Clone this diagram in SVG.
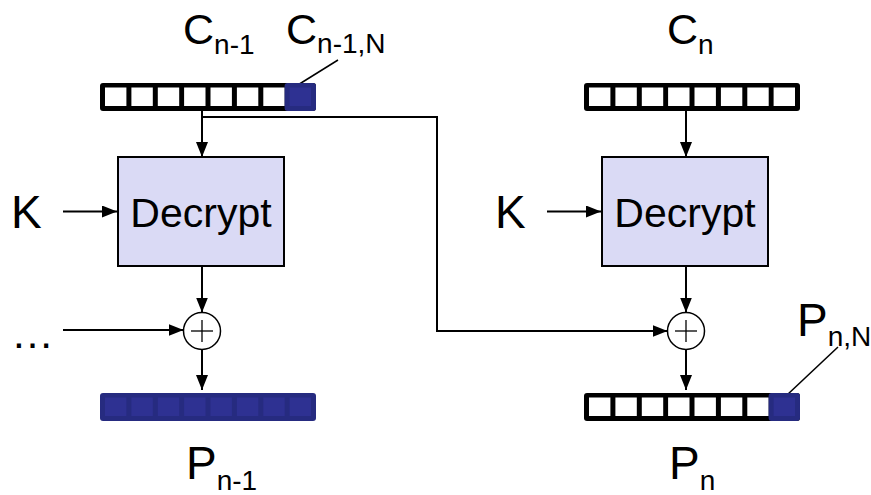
<svg xmlns="http://www.w3.org/2000/svg" xmlns:xlink="http://www.w3.org/1999/xlink" width="871" height="495" viewBox="0 0 871 495">
<style>
text{font-family:"Liberation Sans",Arial,sans-serif;fill:#000}
.big{font-size:43px}
.lbl{font-size:46px}
.sub{font-size:28px}
.box{fill:#dadaf5;stroke:#000;stroke-width:2}
.wire{fill:none;stroke:#000;stroke-width:2}
.lead{fill:none;stroke:#000;stroke-width:1.5}
.xor{fill:#fff;stroke:#000;stroke-width:1.5}
.plus{stroke:#000;stroke-width:1.3}
</style>
<defs>
<marker id="ah" viewBox="0 0 15 12" markerUnits="userSpaceOnUse" markerWidth="15" markerHeight="12" refX="15" refY="6" orient="auto">
<path d="M0,0 L15,6 L0,12 z" fill="#000"/>
</marker>
<g id="barWhite">
<rect x="0" y="0" width="216" height="28" rx="3" fill="#000"/>
<rect x="5" y="4.5" width="21.4" height="18.5" fill="#fff"/>
<rect x="31.4" y="4.5" width="21.4" height="18.5" fill="#fff"/>
<rect x="57.8" y="4.5" width="21.4" height="18.5" fill="#fff"/>
<rect x="84.1" y="4.5" width="21.4" height="18.5" fill="#fff"/>
<rect x="110.5" y="4.5" width="21.4" height="18.5" fill="#fff"/>
<rect x="136.9" y="4.5" width="21.4" height="18.5" fill="#fff"/>
<rect x="163.3" y="4.5" width="21.4" height="18.5" fill="#fff"/>
<rect x="189.6" y="4.5" width="21.4" height="18.5" fill="#fff"/>
</g>
<g id="barBlue">
<rect x="0" y="0" width="216" height="28" rx="3" fill="#262b80"/>
<rect x="5" y="4.5" width="21.4" height="18.5" fill="#2e3192"/>
<rect x="31.4" y="4.5" width="21.4" height="18.5" fill="#2e3192"/>
<rect x="57.8" y="4.5" width="21.4" height="18.5" fill="#2e3192"/>
<rect x="84.1" y="4.5" width="21.4" height="18.5" fill="#2e3192"/>
<rect x="110.5" y="4.5" width="21.4" height="18.5" fill="#2e3192"/>
<rect x="136.9" y="4.5" width="21.4" height="18.5" fill="#2e3192"/>
<rect x="163.3" y="4.5" width="21.4" height="18.5" fill="#2e3192"/>
<rect x="189.6" y="4.5" width="21.4" height="18.5" fill="#2e3192"/>
</g>
<g id="blueCell">
<rect x="0" y="0" width="31.4" height="28" rx="3" fill="#262b80"/>
<rect x="5" y="4.5" width="21.4" height="18.5" fill="#2e3192"/>
</g>
</defs>

<g id="connectors">
<line class="wire" x1="202" y1="111" x2="202" y2="157" marker-end="url(#ah)"/>
<line class="wire" x1="202" y1="266" x2="202" y2="312.5" marker-end="url(#ah)"/>
<line class="wire" x1="202" y1="349.5" x2="202" y2="390" marker-end="url(#ah)"/>
<line class="wire" x1="63" y1="211.5" x2="117" y2="211.5" marker-end="url(#ah)"/>
<line class="wire" x1="63" y1="330" x2="183.5" y2="330" marker-end="url(#ah)"/>
<line class="wire" x1="686" y1="111" x2="686" y2="157" marker-end="url(#ah)"/>
<line class="wire" x1="686" y1="266" x2="686" y2="312.5" marker-end="url(#ah)"/>
<line class="wire" x1="686" y1="349.5" x2="686" y2="390" marker-end="url(#ah)"/>
<line class="wire" x1="547" y1="211.5" x2="601" y2="211.5" marker-end="url(#ah)"/>
<polyline class="wire" points="202,117 437,117 437,331 667.5,331" marker-end="url(#ah)"/>
<line class="lead" x1="338" y1="60" x2="293" y2="88"/>
<line class="lead" x1="838" y1="347" x2="787" y2="395"/>
</g>

<g id="c_prev">
<use xlink:href="#barWhite" x="100" y="83"/>
<use xlink:href="#blueCell" x="284.6" y="83"/>
<text x="183" y="44" class="big">C<tspan class="sub" dy="10">n-1</tspan></text>
<text x="286" y="44" class="big">C<tspan class="sub" dy="9">n-1,N</tspan></text>
</g>

<g id="c_cur">
<use xlink:href="#barWhite" x="584" y="83"/>
<text x="667" y="44" class="big">C<tspan class="sub" dy="10">n</tspan></text>
</g>

<g id="decrypt1">
<rect class="box" x="118" y="157" width="166" height="109"/>
<text x="201" y="227" font-size="41" text-anchor="middle">Decrypt</text>
</g>

<g id="decrypt2">
<rect class="box" x="602" y="157" width="166" height="109"/>
<text x="685" y="227" font-size="41" text-anchor="middle">Decrypt</text>
</g>

<g id="k1"><text x="11" y="228" class="lbl">K</text></g>
<g id="k2"><text x="495" y="228" class="lbl">K</text></g>

<g id="dots"><text x="11" y="348" class="big">…</text></g>

<g id="xor1">
<circle class="xor" cx="202" cy="331" r="18.5"/>
<line class="plus" x1="191" y1="331" x2="213" y2="331"/>
<line class="plus" x1="202" y1="320" x2="202" y2="342"/>
</g>

<g id="xor2">
<circle class="xor" cx="686" cy="331" r="18.5"/>
<line class="plus" x1="675" y1="331" x2="697" y2="331"/>
<line class="plus" x1="686" y1="320" x2="686" y2="342"/>
</g>

<g id="p_prev">
<use xlink:href="#barBlue" x="100" y="393"/>
<text x="186" y="479" class="lbl">P<tspan class="sub" dy="11">n-1</tspan></text>
</g>

<g id="p_cur">
<use xlink:href="#barWhite" x="584" y="393"/>
<use xlink:href="#blueCell" x="768.6" y="393"/>
<text x="669" y="479" class="lbl">P<tspan class="sub" dy="11">n</tspan></text>
<text x="797" y="336" class="lbl">P<tspan class="sub" font-size="25" dy="10">n,N</tspan></text>
</g>
</svg>
